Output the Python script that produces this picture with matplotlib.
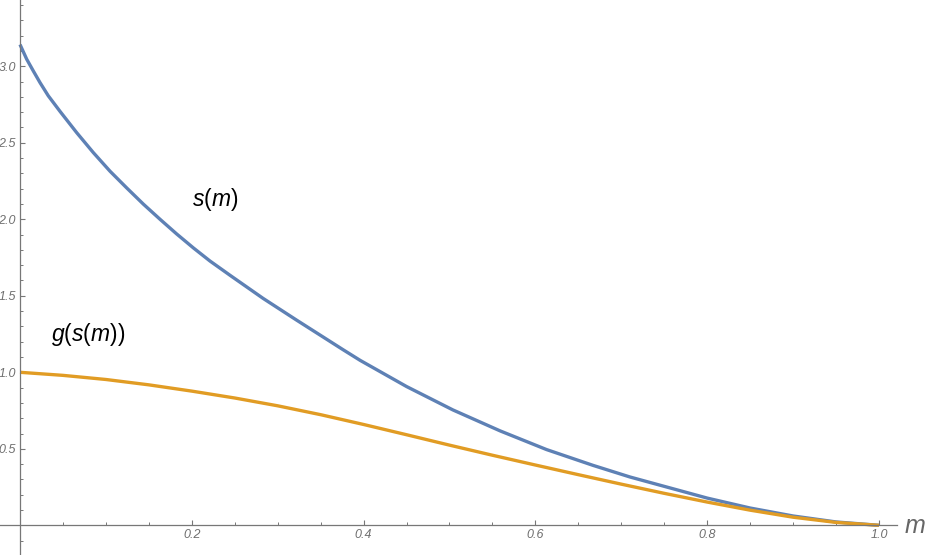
import matplotlib
matplotlib.use("Agg")
import matplotlib.pyplot as plt
from matplotlib.ticker import MultipleLocator, FixedLocator

plt.rcParams['mathtext.fontset'] = 'custom'
plt.rcParams['mathtext.rm'] = 'Liberation Sans'
plt.rcParams['mathtext.it'] = 'Liberation Sans:italic'

# values
m_s = [0, 0.0078, 0.0155, 0.0233, 0.0329, 0.0466, 0.066, 0.0853, 0.1048, 0.1242,
       0.1436, 0.163, 0.1824, 0.2018, 0.2212, 0.245, 0.283, 0.322, 0.376, 0.396,
       0.45, 0.504, 0.559, 0.613, 0.667, 0.71, 0.80, 0.85, 0.90, 0.95, 1.0]
s_vals = [3.142, 3.046, 2.969, 2.893, 2.807, 2.705, 2.566, 2.436, 2.314, 2.205,
          2.099, 2.000, 1.904, 1.813, 1.727, 1.632, 1.483, 1.341, 1.148, 1.078,
          0.907, 0.754, 0.617, 0.495, 0.392, 0.316, 0.178, 0.113, 0.061, 0.022, 0.0]

m_g = [0, 0.05, 0.1, 0.15, 0.2, 0.25, 0.3, 0.35, 0.4, 0.45, 0.5,
       0.55, 0.6, 0.65, 0.7, 0.75, 0.8, 0.85, 0.9, 0.95, 1.0]
g_vals = [1.0, 0.980, 0.953, 0.918, 0.877, 0.832, 0.781, 0.723, 0.659, 0.592, 0.524,
          0.458, 0.394, 0.331, 0.269, 0.209, 0.152, 0.099, 0.053, 0.019, 0.0]

x_ticks = [0.2, 0.4, 0.6, 0.8, 1.0]
y_ticks = [0.5, 1.0, 1.5, 2.0, 2.5, 3.0]

blue = '#5E81B5'
orange = '#E19C24'
axis_gray = '#777777'

fig = plt.figure(figsize=(9.25, 5.55), dpi=100)
ax = fig.add_axes([0, 0, 897 / 925, 1])
ax.set_xlim(-0.0233, 1.021)
ax.set_ylim(-0.194, 3.433)

ax.plot(m_s, s_vals, color=blue, lw=2.4, solid_capstyle='butt', solid_joinstyle='round')
ax.plot(m_g, g_vals, color=orange, lw=2.4, solid_capstyle='butt', solid_joinstyle='round')

for side in ['top', 'right']:
    ax.spines[side].set_visible(False)
ax.spines['left'].set_position(('data', 0))
ax.spines['bottom'].set_position(('data', 0))
for side in ['left', 'bottom']:
    ax.spines[side].set_color(axis_gray)
    ax.spines[side].set_linewidth(0.9)

ax.xaxis.set_major_locator(FixedLocator(x_ticks))
ax.yaxis.set_major_locator(FixedLocator(y_ticks))
ax.xaxis.set_minor_locator(MultipleLocator(0.05))
ax.yaxis.set_minor_locator(MultipleLocator(0.1))
ax.set_xticklabels(['%.1f' % v for v in x_ticks])
ax.set_yticklabels(['%.1f' % v for v in y_ticks])
ax.tick_params(which='major', direction='in', length=3.6, width=0.8, color=axis_gray,
               labelcolor='#6f6f6f', labelsize=9, pad=3)
ax.tick_params(which='minor', direction='in', length=2.0, width=0.7, color=axis_gray)
for lab in ax.get_xticklabels() + ax.get_yticklabels():
    lab.set_family('Liberation Sans')
    lab.set_style('italic')

ax.text(0.227, 2.13, r'$s(m)$', fontsize=16.5, ha='center', va='center', color='black')
ax.text(0.079, 1.25, r'$g(s(m))$', fontsize=16.5, ha='center', va='center', color='black')

fig.text(905 / 925, 1 - 526 / 555, 'm', fontsize=18, family='Liberation Sans',
         style='italic', color='#666666', ha='left', va='center')

fig.savefig('out.png', dpi=100)
